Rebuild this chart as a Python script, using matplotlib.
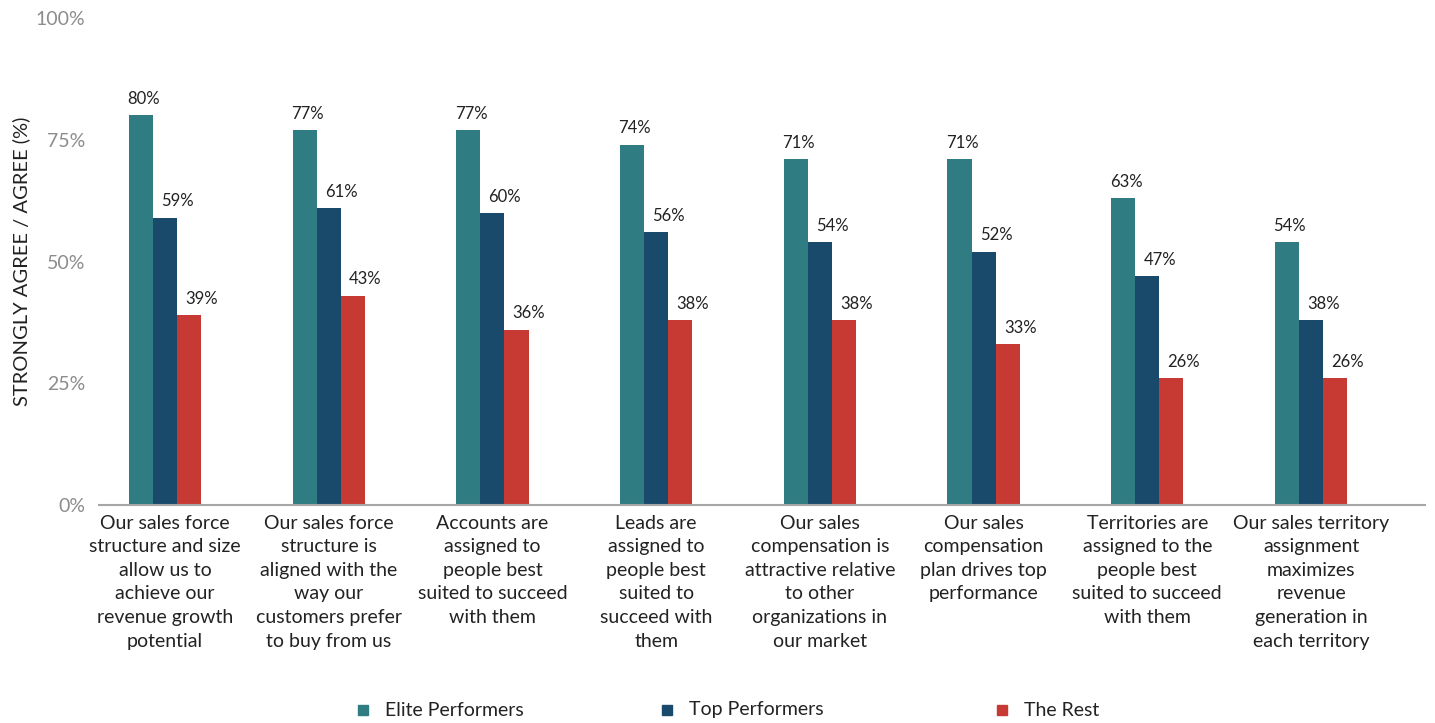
import matplotlib.pyplot as plt
from matplotlib.patches import Rectangle
import numpy as np

plt.rcParams['font.family'] = ['Lato', 'DejaVu Sans']

categories = [
    "Our sales force\nstructure and size\nallow us to\nachieve our\nrevenue growth\npotential",
    "Our sales force\nstructure is\naligned with the\nway our\ncustomers prefer\nto buy from us",
    "Accounts are\nassigned to\npeople best\nsuited to succeed\nwith them",
    "Leads are\nassigned to\npeople best\nsuited to\nsucceed with\nthem",
    "Our sales\ncompensation is\nattractive relative\nto other\norganizations in\nour market",
    "Our sales\ncompensation\nplan drives top\nperformance",
    "Territories are\nassigned to the\npeople best\nsuited to succeed\nwith them",
    "Our sales territory\nassignment\nmaximizes\nrevenue\ngeneration in\neach territory",
]
elite = [80, 77, 77, 74, 71, 71, 63, 54]
top = [59, 61, 60, 56, 54, 52, 47, 38]
rest = [39, 43, 36, 38, 38, 33, 26, 26]

series = ["Elite Performers", "Top Performers", "The Rest"]
colors = ["#2f7d82", "#1a4a6b", "#c73a33"]

fig = plt.figure(figsize=(14.35, 7.23), dpi=100)
ax = fig.add_axes([0.069, 0.3015, 0.924, 0.6735])

x = np.arange(len(categories))
w = 0.147
# value labels of the 2nd and 3rd bar are nudged right so they don't crowd
label_dx = [2, 9, 9]
for i, (vals, col) in enumerate(zip([elite, top, rest], colors)):
    pos = x + (i - 1) * w
    ax.bar(pos, vals, width=w, color=col, edgecolor='none')
    for px, v in zip(pos, vals):
        ax.annotate(f"{v}%", (px, v), xytext=(label_dx[i], 6), textcoords='offset points',
                    ha='center', va='bottom', fontsize=12, color='#222222')

ax.set_xlim(-0.403, 7.696)
ax.set_ylim(0, 100)
ax.set_yticks([0, 25, 50, 75, 100])
ax.set_yticklabels(["0%", "25%", "50%", "75%", "100%"])
ax.tick_params(axis='y', length=0, pad=10, labelsize=14, labelcolor='#8c8c8c')
ax.set_xticks(x)
ax.set_xticklabels(categories, fontsize=14, color='#222222', linespacing=1.47)
ax.tick_params(axis='x', length=0, pad=7)
for s in ['top', 'right', 'left']:
    ax.spines[s].set_visible(False)
ax.spines['bottom'].set_color('#a6a6a6')
ax.spines['bottom'].set_linewidth(1.5)
ax.set_ylabel("STRONGLY AGREE / AGREE (%)", fontsize=14.5, color='#222222', labelpad=4)

# legend drawn by hand so the entries sit where we want them
leg_x = [363, 667, 1002]
for name, col, lx in zip(series, colors, leg_x):
    fig.patches.append(Rectangle(((lx - 5) / 1435, 1 - 715 / 723), 10 / 1435, 10 / 723,
                                 transform=fig.transFigure, color=col))
    fig.text((lx + 22) / 1435, 1 - 710 / 723, name, fontsize=14,
             family=['Liberation Sans Narrow', 'Lato'], color='#222222',
             va='center', ha='left')

fig.savefig("out.png", dpi=100)
